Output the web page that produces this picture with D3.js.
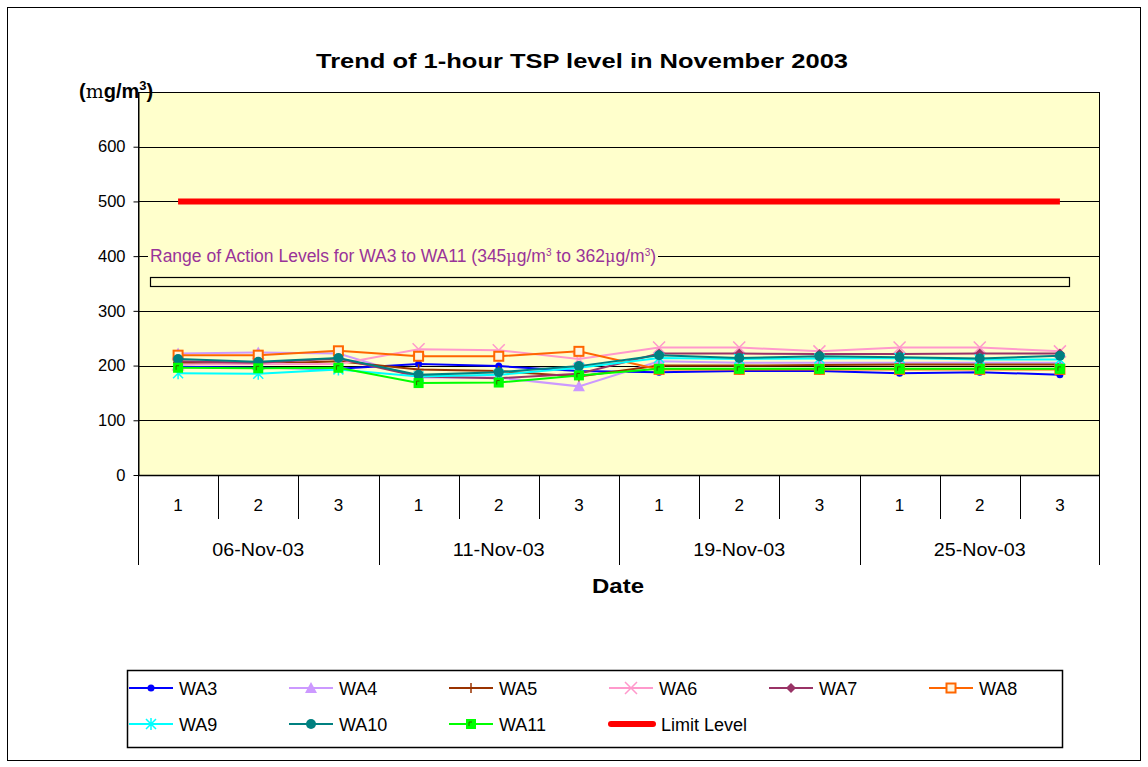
<!DOCTYPE html>
<html>
<head>
<meta charset="utf-8">
<script src="https://cdn.jsdelivr.net/npm/d3@7"></script>
<style>
  body { margin: 0; background: #fff; }
  svg text { font-family: "Liberation Sans", Arial, sans-serif; }
</style>
</head>
<body>
<svg id="chart" width="1148" height="767"></svg>
<script>
'use strict';

// Data
const dates = ["06-Nov-03", "11-Nov-03", "19-Nov-03", "25-Nov-03"];
const samples = ["1", "2", "3"];
const yTicks = [0, 100, 200, 300, 400, 500, 600];

const wa3  = [198, 196, 194, 203, 199, 190, 188, 190, 190, 186, 188, 183];
const wa4  = [222, 224, 222, 178, 178, 162, 208, 205, 205, 205, 205, 205];
const wa5  = [205, 203, 208, 193, 190, 180, 200, 200, 201, 202, 202, 202];
const wa6  = [202, 203, 203, 230, 228, 212, 233, 233, 226, 233, 233, 226];
const wa7  = [208, 205, 213, 180, 177, 185, 222, 222, 221, 221, 222, 222];
const wa8  = [219, 219, 227, 217, 217, 226, 193, 193, 193, 193, 193, 193];
const wa9  = [186, 185, 193, 180, 183, 196, 214, 212, 213, 214, 211, 211];
const wa10 = [212, 207, 214, 183, 188, 199, 219, 214, 217, 215, 213, 218];
const wa11 = [196, 195, 196, 168, 169, 182, 194, 194, 194, 194, 194, 194];
const limitLevel = [500, 500, 500, 500, 500, 500, 500, 500, 500, 500, 500, 500];
const actionLow = 345, actionHigh = 362;

const series = [
    {name: "WA3",  values: wa3,  color: "#0000FF", sym: "dot"},
    {name: "WA4",  values: wa4,  color: "#CC99FF", sym: "triangle"},
    {name: "WA5",  values: wa5,  color: "#993300", sym: "plus"},
    {name: "WA6",  values: wa6,  color: "#FF99CC", sym: "cross"},
    {name: "WA7",  values: wa7,  color: "#993366", sym: "diamond"},
    {name: "WA8",  values: wa8,  color: "#FF6600", sym: "squareOpen"},
    {name: "WA9",  values: wa9,  color: "#00FFFF", sym: "star"},
    {name: "WA10", values: wa10, color: "#008080", sym: "circle"},
    {name: "WA11", values: wa11, color: "#00FF00", sym: "square"},
    {name: "Limit Level", values: limitLevel, color: "#FF0000", sym: "none", width: 6},
];

const svg = d3.select("#chart");
const plot = {left: 138, top: 92, right: 1100, bottom: 475};

// outer border
svg.append("rect").attr("x", 7.5).attr("y", 7.5).attr("width", 1133).attr("height", 753)
    .attr("fill", "#fff").attr("stroke", "#000").attr("stroke-width", 1);

const keys = [];
dates.forEach(d => samples.forEach(s => keys.push(d + "|" + s)));

const x = d3.scaleBand().domain(keys).range([plot.left, plot.right]);
const y = d3.scaleLinear().domain([0, 700]).range([plot.bottom, plot.top]);
const cx = i => x(keys[i]) + x.bandwidth() / 2;

// plot background
svg.append("rect").attr("x", plot.left).attr("y", plot.top)
    .attr("width", plot.right - plot.left).attr("height", plot.bottom - plot.top)
    .attr("fill", "#FFFFCC");

// gridlines
svg.append("g").selectAll("line").data(yTicks.filter(v => v > 0)).join("line")
    .attr("x1", plot.left).attr("x2", plot.right)
    .attr("y1", d => Math.round(y(d)) + 0.5).attr("y2", d => Math.round(y(d)) + 0.5)
    .attr("stroke", "#000").attr("stroke-width", 1);

// plot border
svg.append("rect").attr("x", plot.left + 0.5).attr("y", plot.top + 0.5)
    .attr("width", plot.right - plot.left - 1).attr("height", plot.bottom - plot.top)
    .attr("fill", "none").attr("stroke", "#000").attr("stroke-width", 1);

// y axis
const yAxis = svg.append("g").attr("transform", `translate(${plot.left + 0.5},0)`)
    .call(d3.axisLeft(y).tickValues(yTicks).tickSize(5).tickSizeOuter(0).tickPadding(8));
yAxis.select(".domain").attr("stroke", "#000");
yAxis.selectAll("text").attr("font-size", 16.5).attr("fill", "#000");
svg.append("line").attr("x1", plot.left).attr("x2", plot.right)
    .attr("y1", y(0) + 0.5).attr("y2", y(0) + 0.5).attr("stroke", "#000").attr("stroke-width", 1.5);

// x axis: inner ticks and group separators
const xg = svg.append("g");
keys.forEach((k, i) => {
    const xx = Math.round(x(k)) + 0.5;
    const isGroup = i % 3 === 0;
    xg.append("line").attr("x1", xx).attr("x2", xx).attr("y1", plot.bottom)
        .attr("y2", isGroup ? 565 : 519).attr("stroke", "#000");
    xg.append("text").attr("x", cx(i)).attr("y", 511).attr("text-anchor", "middle")
        .attr("font-size", 17).text(k.split("|")[1]);
});
xg.append("line").attr("x1", plot.right - 0.5).attr("x2", plot.right - 0.5)
    .attr("y1", plot.bottom).attr("y2", 565).attr("stroke", "#000");
dates.forEach((d, g) => {
    const mid = (x(keys[g * 3]) + x(keys[g * 3 + 2]) + x.bandwidth()) / 2;
    xg.append("text").attr("x", mid).attr("y", 556).attr("text-anchor", "middle")
        .attr("font-size", 17.5).attr("textLength", 92).attr("lengthAdjust", "spacingAndGlyphs").text(d);
});

// action level range box and label
svg.append("rect")
    .attr("x", plot.left + 12.5).attr("y", Math.round(y(actionHigh)) + 0.5)
    .attr("width", plot.right - 31 - plot.left - 12).attr("height", Math.round(y(actionLow) - y(actionHigh)))
    .attr("fill", "none").attr("stroke", "#000").attr("stroke-width", 1.2);

const lblBg = svg.append("rect").attr("fill", "#FFFFCC");
const lbl = svg.append("text").attr("x", 150).attr("y", y(400) + 6)
    .attr("font-size", 17.5).attr("fill", "#993399");
lbl.append("tspan").text("Range of Action Levels for WA3 to WA11 (345");
lbl.append("tspan").attr("font-family", "DejaVu Serif").attr("font-size", 16).text("μ");
lbl.append("tspan").text("g/m");
lbl.append("tspan").attr("font-size", 10).attr("dy", -6).text("3");
lbl.append("tspan").attr("dy", 6).text(" to 362");
lbl.append("tspan").attr("font-family", "DejaVu Serif").attr("font-size", 16).text("μ");
lbl.append("tspan").text("g/m");
lbl.append("tspan").attr("font-size", 10).attr("dy", -6).text("3");
lbl.append("tspan").attr("dy", 6).text(")");
const bb = lbl.node().getBBox();
lblBg.attr("x", bb.x - 2).attr("y", y(400) - 10)
    .attr("width", bb.width + 4).attr("height", 20);

// markers
function marker(g, sym, color, px, py) {
    switch (sym) {
    case "dot":
        g.append("circle").attr("cx", px).attr("cy", py).attr("r", 3.5).attr("fill", color); break;
    case "circle":
        g.append("circle").attr("cx", px).attr("cy", py).attr("r", 5).attr("fill", color); break;
    case "triangle":
        g.append("path").attr("d", `M${px},${py - 6}L${px + 6},${py + 5}L${px - 6},${py + 5}Z`).attr("fill", color); break;
    case "diamond":
        g.append("path").attr("d", `M${px},${py - 5}L${px + 5},${py}L${px},${py + 5}L${px - 5},${py}Z`).attr("fill", color); break;
    case "plus":
        g.append("path").attr("d", `M${px - 5},${py}H${px + 5}M${px},${py - 5}V${py + 5}`).attr("stroke", color).attr("stroke-width", 1.5); break;
    case "cross":
        g.append("path").attr("d", `M${px - 6},${py - 6}L${px + 6},${py + 6}M${px + 6},${py - 6}L${px - 6},${py + 6}`).attr("stroke", color).attr("stroke-width", 1.5); break;
    case "star":
        g.append("path").attr("d", `M${px - 5},${py - 5}L${px + 5},${py + 5}M${px + 5},${py - 5}L${px - 5},${py + 5}M${px},${py - 6}V${py + 6}`).attr("stroke", color).attr("stroke-width", 1.5); break;
    case "squareOpen":
        g.append("rect").attr("x", px - 4.5).attr("y", py - 4.5).attr("width", 9).attr("height", 9)
            .attr("fill", "#FFF5E0").attr("stroke", color).attr("stroke-width", 2); break;
    case "square":
        g.append("rect").attr("x", px - 5).attr("y", py - 5).attr("width", 10).attr("height", 10).attr("fill", color);
        g.append("path").attr("d", `M${px - 2},${py + 2}V${py - 2}H${px + 1}`).attr("stroke", "#336600").attr("stroke-width", 1).attr("fill", "none"); break;
    }
}

// series lines
const line = d3.line().x((d, i) => cx(i)).y(d => y(d));
series.forEach(s => {
    const g = svg.append("g");
    g.append("path").datum(s.values).attr("d", line).attr("fill", "none")
        .attr("stroke", s.color).attr("stroke-width", s.width || 2);
    s.values.forEach((v, i) => marker(g, s.sym, s.color, cx(i), y(v)));
});

// titles
svg.append("text").attr("x", 582).attr("y", 68).attr("text-anchor", "middle")
    .attr("font-size", 21).attr("font-weight", "bold")
    .attr("textLength", 532).attr("lengthAdjust", "spacingAndGlyphs")
    .text("Trend of 1-hour TSP level in November 2003");
const unit = svg.append("text").attr("x", 79).attr("y", 98).attr("font-size", 20).attr("font-weight", "bold");
unit.append("tspan").text("(");
unit.append("tspan").attr("font-family", "DejaVu Serif").attr("font-weight", "normal").attr("font-size", 19).text("m");
unit.append("tspan").text("g/m");
unit.append("tspan").attr("font-size", 13).attr("dy", -8).text("3");
unit.append("tspan").attr("dy", 8).text(")");
svg.append("text").attr("x", 618).attr("y", 593).attr("text-anchor", "middle")
    .attr("font-size", 21).attr("font-weight", "bold")
    .attr("textLength", 52).attr("lengthAdjust", "spacingAndGlyphs").text("Date");

// legend
const leg = svg.append("g");
leg.append("rect").attr("x", 127.5).attr("y", 670.5).attr("width", 935).attr("height", 77)
    .attr("fill", "#fff").attr("stroke", "#000").attr("stroke-width", 1.5);
series.forEach((s, i) => {
    const col = i % 6, row = Math.floor(i / 6);
    const lx = 129 + col * 160, ly = 688 + row * 36;
    if (s.sym === "none") {
        leg.append("line").attr("x1", lx + 2).attr("x2", lx + 44).attr("y1", ly).attr("y2", ly)
            .attr("stroke", s.color).attr("stroke-width", 6).attr("stroke-linecap", "round");
    } else {
        const g = leg.append("g");
        g.append("line").attr("x1", lx).attr("x2", lx + 44).attr("y1", ly).attr("y2", ly)
            .attr("stroke", s.color).attr("stroke-width", 2);
        marker(g, s.sym, s.color, lx + 22, ly);
    }
    leg.append("text").attr("x", lx + (s.sym === "none" ? 52 : 50)).attr("y", ly + 7)
        .attr("font-size", 18).text(s.name);
});
</script>
</body>
</html>
